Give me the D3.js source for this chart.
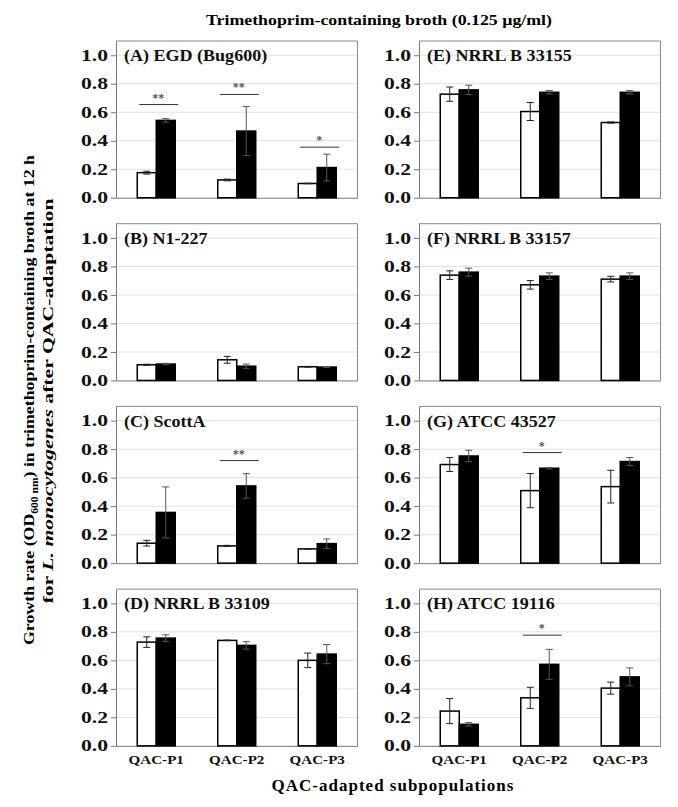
<!DOCTYPE html>
<html>
<head>
<meta charset="utf-8">
<script src="https://cdn.jsdelivr.net/npm/d3@7"></script>
<style>
  body { margin: 0; background: #fff; }
  text { font-family: "Liberation Serif", "Times New Roman", serif; font-weight: bold; }
</style>
</head>
<body>
<div id="chart"></div>
<script>
const groups = ["QAC-P1", "QAC-P2", "QAC-P3"];
const panelTitles = ["(A) EGD (Bug600)", "(B) N1-227", "(C) ScottA", "(D) NRRL B 33109",
                     "(E) NRRL B 33155", "(F) NRRL B 33157", "(G) ATCC 43527", "(H) ATCC 19116"];
const yTicks = [0, 0.2, 0.4, 0.6, 0.8, 1.0];

// white bars (open) and black bars (filled), per panel, per subpopulation
const whiteMeans = [[0.176, 0.125, 0.10], [0.11, 0.145, 0.096], [0.14, 0.121, 0.10], [0.728, 0.74, 0.60],
                    [0.727, 0.605, 0.528], [0.739, 0.671, 0.711], [0.692, 0.509, 0.537], [0.244, 0.337, 0.405]];
const whiteErr   = [[0.01, 0.006, 0.002], [0.004, 0.024, 0.003], [0.02, 0.004, 0.003], [0.037, 0.002, 0.051],
                    [0.05, 0.063, 0.004], [0.03, 0.03, 0.02], [0.049, 0.12, 0.115], [0.088, 0.074, 0.042]];
const blackMeans = [[0.543, 0.468, 0.212], [0.115, 0.10, 0.094], [0.356, 0.542, 0.137], [0.756, 0.705, 0.644],
                    [0.757, 0.74, 0.74], [0.76, 0.732, 0.732], [0.752, 0.666, 0.713], [0.151, 0.572, 0.484]];
const blackErr   = [[0.012, 0.172, 0.094], [0.005, 0.015, 0.003], [0.179, 0.086, 0.033], [0.023, 0.026, 0.067],
                    [0.033, 0.012, 0.012], [0.028, 0.023, 0.023], [0.04, 0.005, 0.028], [0.012, 0.105, 0.063]];
// [panel, group, stars, level]
const sigMarks = [[0, 0, "**", 0.654], [0, 1, "**", 0.725], [0, 2, "*", 0.355],
                  [2, 1, "**", 0.72], [6, 1, "*", 0.776], [7, 1, "*", 0.777]];

const W = 678, H = 807;
const svg = d3.select('#chart').append('svg')
  .attr('width', W).attr('height', H);

const panelW = 241.5, panelH = 156.75;
const colX = [116, 419];
const rowTop = r => 41 + r * 182.7;

// the original figure's lettering is drawn a bit wider than the font
function stretch(sel, factor) {
  sel.each(function() {
    const len = this.getComputedTextLength();
    d3.select(this).attr('textLength', len * factor).attr('lengthAdjust', 'spacingAndGlyphs');
  });
}

svg.append('text')
  .attr('x', 379).attr('y', 25)
  .attr('text-anchor', 'middle')
  .attr('font-size', 15.5)
  .attr('textLength', 346).attr('lengthAdjust', 'spacingAndGlyphs')
  .text('Trimethoprim-containing broth (0.125 µg/ml)');

panelTitles.forEach((title, p) => {
  const col = p < 4 ? 0 : 1, row = p % 4;
  const x0 = colX[col], top = rowTop(row);
  const y = d3.scaleLinear().domain([0, 1.1]).range([top + panelH, top]);
  const x = d3.scaleBand().domain(groups).range([x0, x0 + panelW]);
  const bw = x.bandwidth() * 0.236;
  const g = svg.append('g').attr('class', 'panel');

  // gridlines
  g.selectAll('line.grid').data(yTicks.slice(1)).join('line')
    .attr('x1', x0).attr('x2', x0 + panelW)
    .attr('y1', d => y(d)).attr('y2', d => y(d))
    .attr('stroke', '#e2e2e2').attr('stroke-width', 1);

  // frame (top and right)
  g.append('path')
    .attr('d', `M${x0},${top}H${x0 + panelW}V${top + panelH}`)
    .attr('fill', 'none').attr('stroke', '#8a8a8a').attr('stroke-width', 1);

  // y axis
  const ax = g.append('g')
    .attr('transform', `translate(${x0},0)`)
    .call(d3.axisLeft(y).tickValues(yTicks).tickFormat(d3.format('.1f')).tickSize(5).tickSizeOuter(0));
  ax.select('.domain').attr('stroke', '#777');
  ax.selectAll('.tick line').attr('stroke', '#777');
  ax.selectAll('.tick text')
    .attr('font-family', '"Liberation Serif", serif')
    .attr('font-weight', 'bold')
    .attr('font-size', 16)
    .attr('fill', '#111')
    .attr('x', -8)
    .attr('textLength', 27).attr('lengthAdjust', 'spacingAndGlyphs');

  // x axis baseline
  const xa = g.append('g')
    .attr('transform', `translate(0,${y(0)})`)
    .call(d3.axisBottom(x).tickSize(0).tickSizeOuter(0));
  xa.select('.domain').attr('stroke', '#777');
  if (row === 3) {
    xa.selectAll('.tick text')
      .attr('font-family', '"Liberation Serif", serif')
      .attr('font-weight', 'bold')
      .attr('font-size', 13)
      .attr('fill', '#111')
      .attr('dy', 0).attr('y', 18)
      .call(stretch, 1.16);
  } else {
    xa.selectAll('.tick text').remove();
  }

  const cx = d => x(d) + x.bandwidth() / 2;

  // bars
  g.selectAll('rect.white').data(groups).join('rect')
    .attr('x', d => cx(d) - bw)
    .attr('y', (d, i) => y(whiteMeans[p][i]))
    .attr('width', bw)
    .attr('height', (d, i) => y(0) - y(whiteMeans[p][i]))
    .attr('fill', '#fff').attr('stroke', '#000').attr('stroke-width', 1.5);

  g.selectAll('rect.black').data(groups).join('rect')
    .attr('x', d => cx(d))
    .attr('y', (d, i) => y(blackMeans[p][i]))
    .attr('width', bw)
    .attr('height', (d, i) => y(0) - y(blackMeans[p][i]))
    .attr('fill', '#000').attr('stroke', '#000').attr('stroke-width', 1.5);

  // error bars
  const errBar = (xc, m, e, color) => {
    g.append('path')
      .attr('d', `M${xc},${y(m - e)}V${y(m + e)}M${xc - 3.5},${y(m + e)}h7M${xc - 3.5},${y(m - e)}h7`)
      .attr('fill', 'none').attr('stroke', color).attr('stroke-width', 1);
  };
  groups.forEach((d, i) => {
    errBar(cx(d) - bw / 2, whiteMeans[p][i], whiteErr[p][i], '#222');
    errBar(cx(d) + bw / 2, blackMeans[p][i], blackErr[p][i], '#555');
  });

  // significance marks
  sigMarks.filter(s => s[0] === p).forEach(([, gi, stars, lvl]) => {
    const c = cx(groups[gi]);
    g.append('line')
      .attr('x1', c - 17).attr('x2', c + 22)
      .attr('y1', y(lvl)).attr('y2', y(lvl))
      .attr('stroke', '#333').attr('stroke-width', 1);
    g.append('text')
      .attr('x', c + 2).attr('y', y(lvl) - 3)
      .attr('text-anchor', 'middle')
      .attr('font-size', 12).attr('fill', '#555')
      .text(stars);
  });

  // panel title
  g.append('text')
    .attr('x', x0 + 8).attr('y', y(1.0) + 6)
    .attr('font-size', 17).attr('fill', '#111')
    .text(title)
    .call(stretch, 1.06);
});

// x axis title
svg.append('text')
  .attr('x', 393).attr('y', 791)
  .attr('text-anchor', 'middle')
  .attr('font-size', 17)
  .attr('letter-spacing', 1)
  .text('QAC-adapted subpopulations');

// y axis title (two lines)
const yl1 = svg.append('text')
  .attr('transform', 'translate(34,400) rotate(-90)')
  .attr('text-anchor', 'middle')
  .attr('font-size', 15.5)
  .attr('textLength', 490).attr('lengthAdjust', 'spacingAndGlyphs');
yl1.append('tspan').text('Growth rate (OD');
yl1.append('tspan').attr('font-size', 10).attr('dy', 4).text('600 nm');
yl1.append('tspan').attr('dy', -4).text(') in trimethoprim-containing broth  at 12 h');

const yl2 = svg.append('text')
  .attr('transform', 'translate(53,401) rotate(-90)')
  .attr('text-anchor', 'middle')
  .attr('font-size', 15.5)
  .attr('textLength', 405).attr('lengthAdjust', 'spacingAndGlyphs');
yl2.append('tspan').text('for ');
yl2.append('tspan').attr('font-style', 'italic').text('L. monocytogenes');
yl2.append('tspan').text('  after QAC-adaptation');
</script>
</body>
</html>
